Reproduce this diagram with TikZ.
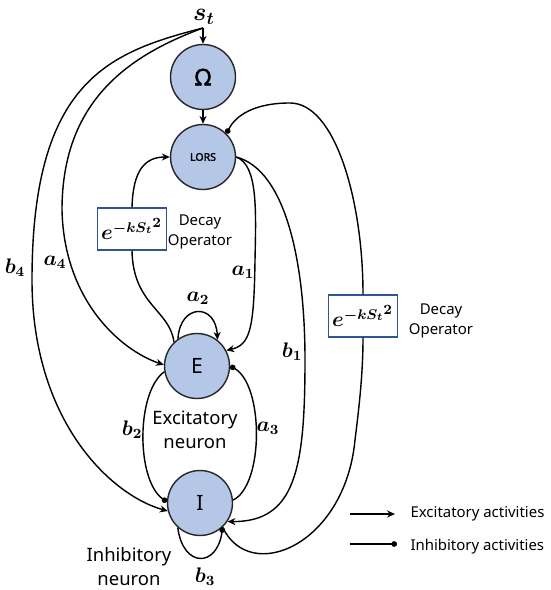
\documentclass[tikz,border=0pt]{standalone}
\usepackage{amsmath,amssymb,bm}
\usepackage[no-math]{fontspec}
\setmainfont{Noto Sans}[AutoFakeBold=2]
\usetikzlibrary{arrows.meta}
\definecolor{cellblue}{RGB}{180,199,231}
\definecolor{boxblue}{RGB}{47,85,151}

\begin{document}
\begin{tikzpicture}[x=0.02cm,y=-0.02cm,line width=0.8pt,
  cell/.style={circle,draw=black!85,fill=cellblue,minimum size=1.3cm,inner sep=0pt},
  decay/.style={draw=boxblue,line width=0.7pt,minimum width=1.36cm,minimum height=0.84cm,inner sep=2pt,font=\large},
  note/.style={align=center,font=\fontsize{8.5}{11.4}\selectfont},
  cellname/.style={align=center,font=\fontsize{10.5}{13.7}\selectfont},
  wgt/.style={font=\large},
  exc/.style={-{Stealth[length=4.5pt,width=4pt]}},
  inh/.style={-{Circle[length=3.2pt]}}]
  \useasboundingbox (0,0) rectangle (550,590);

  \node[font=\Large,inner sep=1pt] (st) at (204,17) {$\bm{s_t}$};
  \coordinate (P) at (203,28);
  \node[cell,font=\bfseries\fontsize{13}{15}\selectfont] (Om) at (203,77) {Ω};
  \node[cell,font=\bfseries\fontsize{6}{7}\selectfont] (LORS) at (203,157) {LORS};
  \node[cell,font=\fontsize{12}{14}\selectfont] (E) at (197,366) {E};
  \node[cell,font=\fontsize{12}{14}\selectfont] (I) at (200,503) {I};

  \node[decay] (lbox) at (132,229) {$\bm{e^{-kS_t{}^{\scriptstyle 2}}}$};
  \node[note] (ldecay) at (200,232) {Decay\\Operator};
  \node[decay] (rbox) at (363,316) {$\bm{e^{-kS_t{}^{\scriptstyle 2}}}$};
  \node[note] (rdecay) at (441,321) {Decay\\Operator};

  \node[cellname] (Etext) at (195,430) {Excitatory\\neuron};
  \node[cellname] (Itext) at (129,567) {Inhibitory\\neuron};

  \node[wgt] (a1) at (243,272) {$\bm{a_1}$};
  \node[wgt] (a2) at (198,298) {$\bm{a_2}$};
  \node[wgt] (a3) at (268,428) {$\bm{a_3}$};
  \node[wgt] (a4) at (55,262) {$\bm{a_4}$};
  \node[wgt] (b1) at (292,352) {$\bm{b_1}$};
  \node[wgt] (b2) at (132,430) {$\bm{b_2}$};
  \node[wgt] (b3) at (205,577) {$\bm{b_3}$};
  \node[wgt] (b4) at (15,268) {$\bm{b_4}$};

  \draw[exc] (P) -- (Om);
  \draw[exc] (Om) -- (LORS);
  \draw[exc] (P) .. controls (130,55) and (62,100) .. (62,210)
    .. controls (64,300) and (120,350) .. (E.178);
  \draw[exc] (P) .. controls (110,52) and (32,80) .. (32,280)
    .. controls (32,420) and (110,495) .. (I.194);

  \draw (E.134) .. controls (170,310) and (133,305) .. (lbox.south);
  \draw[exc] (lbox.north) .. controls (133,170) and (145,157) .. (LORS.west);

  \draw[exc] (LORS.east) .. controls (258,165) and (256,210) .. (255,260)
    .. controls (254,330) and (250,345) .. (E.28);
  \draw[exc] (LORS.east) .. controls (285,170) and (305,260) .. (305,360)
    .. controls (305,470) and (295,522) .. (I.-34);

  \draw (I.-47) .. controls (250,585) and (345,545) .. (355,440)
    .. controls (360,400) and (363,370) .. (rbox.south);
  \draw[inh] (rbox.north) .. controls (363,200) and (335,103) .. (290,103)
    .. controls (255,103) and (236,115) .. (LORS.45);

  \draw[exc] (E.125) .. controls (180,303) and (216,303) .. (E.52);
  \draw[inh] (I.5) .. controls (264,485) and (264,385) .. (E.0);
  \draw[inh] (E.190) .. controls (136,392) and (136,480) .. (I.178);
  \draw[inh] (I.-132) .. controls (183,568) and (217,568) .. (I.-47);

  \coordinate (exA) at (350,514);
  \coordinate (exB) at (395,514);
  \node[anchor=west,font=\fontsize{8.5}{10}\selectfont] (exT) at (404,514) {Excitatory activities};
  \draw[exc] (exA) -- (exB);
  \coordinate (inA) at (350,544);
  \coordinate (inB) at (397,544);
  \node[anchor=west,font=\fontsize{8.5}{10}\selectfont] (inT) at (404,547) {Inhibitory activities};
  \draw[inh] (inA) -- (inB);
\end{tikzpicture}
\end{document}
